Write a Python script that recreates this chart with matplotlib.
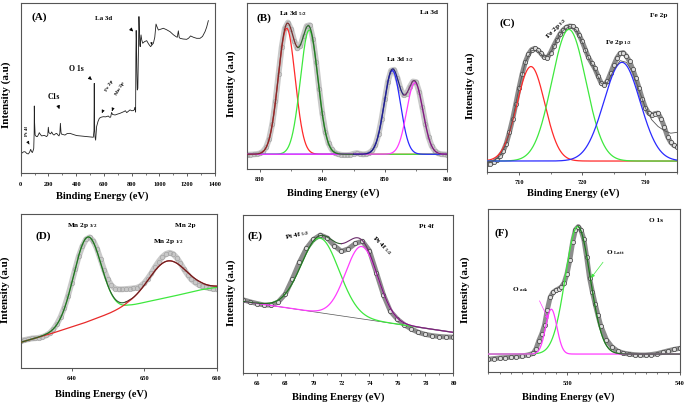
import numpy as np
import matplotlib
matplotlib.use("Agg")
import matplotlib.pyplot as plt
from matplotlib.ticker import MultipleLocator
from matplotlib.patches import FancyArrowPatch

plt.rcParams['font.family'] = ['Liberation Serif', 'DejaVu Serif']
plt.rcParams['font.weight'] = 'bold'
plt.rcParams['mathtext.fontset'] = 'custom'
plt.rcParams['mathtext.rm'] = 'Liberation Serif:bold'
plt.rcParams['mathtext.it'] = 'Liberation Serif:bold'
plt.rcParams['mathtext.bf'] = 'Liberation Serif:bold'

# ---------------- (A) survey ----------------
survey_energy = [0, 7, 20, 31, 45, 55, 64, 72, 78, 84, 90, 94, 97, 98, 100, 104, 113, 120, 127, 134,
                 142, 151, 170, 187, 195, 199, 203, 209, 216, 223, 232, 240, 250, 259, 268, 276, 282,
                 286, 290, 293, 305, 319, 335, 355, 380, 403, 440, 475, 500, 523, 528, 530, 532, 535,
                 540, 547, 557, 567, 580, 595, 612, 631, 640, 648, 655, 662, 680, 697, 716, 730, 744,
                 754, 764, 776, 788, 800, 812, 820, 824, 828, 830, 832, 834, 837, 840, 844, 848, 852,
                 855, 858, 861, 864, 867, 872, 879, 893, 908, 922, 936, 946, 956, 966, 975, 983, 992,
                 1010, 1028, 1050, 1076, 1100, 1119, 1128, 1136, 1142, 1148, 1170, 1196, 1210, 1224,
                 1245, 1268, 1292, 1310, 1328, 1340, 1352]
survey_intensity = [12.0, 11.8, 12.6, 12.7, 11.6, 11.4, 12.4, 14.1, 12.8, 12.2, 13.5, 14.7, 24.0, 39.6,
                    30.0, 22.5, 21.6, 21.6, 22.6, 23.9, 22.8, 22.0, 22.3, 21.6, 22.5, 27.1, 24.0, 23.5,
                    23.2, 24.3, 23.0, 22.5, 23.2, 23.5, 22.6, 22.0, 23.5, 29.4, 24.5, 23.1, 22.8, 22.5,
                    23.4, 23.5, 22.8, 22.2, 21.9, 21.6, 21.4, 21.2, 25.0, 52.9, 30.0, 21.6, 19.5, 27.5,
                    30.5, 32.4, 33.0, 33.3, 33.2, 33.7, 33.0, 33.0, 35.8, 34.6, 34.3, 34.8, 35.3, 35.8,
                    36.3, 36.8, 35.7, 36.5, 37.3, 36.8, 36.9, 37.5, 38.8, 36.0, 70.0, 84.0, 78.0, 60.0,
                    49.0, 50.0, 70.0, 92.2, 85.0, 76.0, 74.5, 79.0, 81.4, 78.5, 76.5, 77.5, 78.0, 76.0,
                    74.5, 75.5, 76.5, 80.0, 87.8, 86.0, 84.3, 84.8, 85.3, 84.5, 83.3, 81.5, 80.4, 80.0,
                    83.8, 80.0, 79.4, 79.0, 78.8, 79.5, 80.8, 80.0, 79.4, 79.4, 80.5, 83.3, 86.0, 89.8]

# ---------------- (B) La 3d ----------------
la_energy = np.arange(828, 860.01, 0.5)
la_intensity = [8.6, 8.7, 8.8, 9.0, 9.4, 10.5, 13.0, 18.2, 27.3, 40.8, 57.4, 73.5, 84.8, 88.4, 84.5,
                77.5, 72.8, 74.5, 80.5, 86.3, 86.8, 78.5, 64.8, 48.5, 33.6, 22.4, 15.5, 11.8, 9.8, 9.0,
                8.6, 8.4, 8.4, 8.6, 9.2, 9.6, 9.2, 8.8, 9.0, 9.7, 11.2, 14.6, 21.0, 30.4, 42.0, 52.8,
                59.4, 59.9, 55.2, 48.6, 44.6, 45.4, 49.6, 52.8, 52.5, 46.6, 37.2, 27.2, 19.2, 13.9,
                11.0, 9.5, 9.0, 8.8, 8.7]
la_base = 8.9
la_centers = [834.3, 837.9, 851.2, 854.8]
la_heights = [76.0, 75.0, 50.5, 43.2]
la_widths = [1.36, 1.40, 1.30, 1.30]
la_colors = ['#ff2a2a', '#3ee83e', '#2a2aff', '#ff3cff']
la_env_breaks = [828, 836.1, 845, 853, 860]
la_env_colors = ['#7a2e2e', '#2c6a2c', '#23237a', '#6e2a6e']

# ---------------- (C) Fe 2p ----------------
fe_energy = np.arange(705, 735.01, 0.5)
fe_intensity = [4.6, 5.0, 5.8, 7.3, 9.4, 12.3, 16.8, 23.5, 31.2, 40.2, 49.5, 58.0, 65.0, 69.8, 72.5,
                73.3, 72.3, 70.3, 68.0, 67.6, 70.8, 74.8, 78.4, 81.8, 84.2, 85.8, 86.5, 86.3, 84.6,
                81.5, 77.4, 72.6, 67.9, 64.6, 61.4, 57.0, 52.8, 51.5, 54.0, 58.6, 63.4, 67.6, 70.3,
                70.8, 68.7, 65.6, 61.0, 55.7, 49.8, 43.5, 38.2, 35.0, 33.8, 34.6, 34.9, 31.5, 26.6,
                21.0, 17.6, 15.8, 14.9]
fe_fit_energy = np.arange(705, 735.01, 1.0)
fe_fit = [6.0, 6.6, 9.6, 16.8, 31.0, 49.5, 65.0, 72.0, 71.8, 68.0, 70.6, 78.2, 84.0, 86.2, 84.4,
          77.0, 67.6, 60.8, 52.5, 53.0, 60.5, 66.0, 65.0, 59.0, 48.5, 38.0, 31.0, 27.0, 24.5, 23.0, 23.5]
fe_base = 6.5
fe_centers = [711.9, 717.9, 726.3]
fe_heights = [56.0, 78.0, 58.5]
fe_widths = [2.2, 2.7, 2.85]
fe_colors = ['#ff2a2a', '#3ee83e', '#2a2aff']

# ---------------- (D) Mn 2p ----------------
mn_energy = np.arange(633, 660.01, 0.5)
mn_intensity = [17.5, 18.0, 18.5, 19.0, 19.2, 19.5, 20.0, 21.0, 22.5, 25.0, 28.5, 33.0, 39.0, 46.5,
                55.0, 64.0, 72.5, 79.0, 83.5, 84.8, 82.5, 77.5, 70.5, 63.5, 57.5, 53.5, 51.5, 51.0,
                51.0, 51.2, 51.4, 51.6, 52.0, 53.0, 55.0, 58.0, 61.5, 65.5, 69.0, 72.0, 74.0, 74.8,
                74.0, 71.5, 68.0, 64.0, 60.5, 57.5, 55.5, 54.0, 53.0, 52.3, 51.8, 51.3, 51.0]
mn_bg_energy = [633, 637, 641.6, 645.3, 647.8, 651, 654, 657.7, 660]
mn_bg_level = [16.5, 21.9, 28.9, 35.4, 40.1, 43.5, 46.5, 50.6, 52.3]
mn_centers = [642.2, 653.2]
mn_heights = [55.0, 23.7]
mn_widths = [1.9, 2.6]
mn_colors = ['#3ee83e', '#e82a2a']

# ---------------- (E) Pt 4f ----------------
pt_energy = np.arange(65, 80.01, 0.5)
pt_intensity = [46.3, 45.0, 43.9, 43.0, 43.0, 45.0, 50.0, 59.5, 70.0, 78.8, 84.5, 87.3, 85.4, 80.5,
                77.0, 78.6, 82.0, 83.4, 77.5, 63.5, 49.5, 39.0, 34.0, 30.5, 27.8, 25.7, 24.4, 23.6,
                23.1, 22.8, 22.7]
pt_bg_energy = [65, 80]
pt_bg_level = [45.3, 25.7]
pt_centers = [70.48, 73.45]
pt_heights = [47.2, 45.8]
pt_widths = [1.35, 1.15]
pt_colors = ['#3ee83e', '#ff3cff']

# ---------------- (F) O 1s ----------------
o_energy = [523, 523.5, 524, 524.5, 525, 525.5, 526, 526.5, 527, 527.25, 527.5, 527.75, 528, 528.25,
            528.5, 528.75, 529, 529.25, 529.5, 529.75, 530, 530.25, 530.5, 530.75, 531, 531.25,
            531.5, 531.75, 532, 532.25, 532.5, 532.75, 533, 533.5, 534, 534.5, 535, 535.5, 536,
            536.5, 537, 537.5, 538, 538.5, 539, 539.5, 540]
o_intensity = [8.0, 8.4, 8.8, 9.0, 9.3, 9.6, 10.0, 10.6, 11.6, 14.5, 19.5, 23.5, 29.0, 38.5, 46.0,
               49.0, 50.3, 51.2, 52.3, 55.0, 60.5, 69.0, 80.0, 87.5, 89.4, 87.0, 81.5, 70.5, 58.0,
               49.5, 42.0, 35.0, 28.5, 20.0, 15.5, 13.0, 11.8, 11.2, 10.8, 10.6, 10.6, 10.9, 11.4,
               12.3, 13.2, 14.0, 14.7]
o_base = 11.2
o_centers = [528.6, 530.95]
o_heights = [27.5, 78.2]
o_widths = [0.5, 1.1]
o_colors = ['#ff3cff', '#3ee83e']

# ---------------- helpers ----------------
W, H = 685, 403
fig = plt.figure(figsize=(W / 100, H / 100), dpi=100)


def add_ax(l, t, r, b):
    return fig.add_axes([l / W, 1 - b / H, (r - l) / W, (b - t) / H])


def style(ax, xlim, major, minor=None):
    ax.set_xlim(*xlim)
    ax.set_ylim(0, 100)
    ax.set_yticks([])
    ax.xaxis.set_major_locator(MultipleLocator(major))
    if minor:
        ax.xaxis.set_minor_locator(MultipleLocator(minor))
    ax.tick_params(axis='x', which='major', length=2.5, width=0.6, labelsize=4.6, pad=3.5,
                   direction='out', color='#444')
    ax.tick_params(axis='x', which='minor', length=1.6, width=0.5, direction='out', color='#444')
    for lab in ax.get_xticklabels():
        lab.set_fontweight('bold')
    for s in ax.spines.values():
        s.set_linewidth(0.8)
        s.set_color('#555555')


def gauss(x, c, h, w):
    return h * np.exp(-0.5 * ((x - c) / w) ** 2)


def T(x, y, s, size, rot=0, color='k', ha='center', va='center'):
    fig.text(x / W, 1 - y / H, s, fontsize=size, rotation=rot, ha=ha, va=va, color=color,
             fontweight='bold')


def ARR(x1, y1, x2, y2, color='k', ms=5, lw=0.5):
    fig.add_artist(FancyArrowPatch((x1 / W, 1 - y1 / H), (x2 / W, 1 - y2 / H),
                                   transform=fig.transFigure, arrowstyle='-|>',
                                   mutation_scale=ms, lw=lw, color=color))


def data_light(ax, x, y):
    ax.plot(x, y, color='#c9c9c9', lw=4.2, solid_capstyle='round', zorder=1)
    ax.plot(x, y, 'o', ms=3.2, mfc='none', mec='#a6a6a6', mew=0.5, zorder=1)


def data_dark(ax, x, y):
    ax.plot(x, y, color='#8c8c8c', lw=3.6, solid_capstyle='round', zorder=1)
    ax.plot(x, y, 'o', ms=3.0, mfc='#dddddd', mec='#3c3c3c', mew=0.5, zorder=1)


def ylab(x, y):
    T(x, y, 'Intensity (a.u)', 8.0, rot=90)


def xlab(x, y):
    T(x, y, 'Binding Energy (eV)', 7.6)


# ---------------- (A) ----------------
axA = add_ax(20.7, 3.3, 215, 173.3)
axA.plot(survey_energy, survey_intensity, color='#222222', lw=0.6)
style(axA, (0, 1400), 200, 100)
ylab(6.5, 95)
xlab(102.7, 196)
T(39, 17, '(A)', 8)
T(104, 19, 'La 3d', 5)
ARR(129, 27.3, 135, 33.5)
T(76, 69.3, 'O 1s', 5.5)
ARR(87.3, 76, 94, 81.7)
T(54, 97.3, 'C1s', 5.5)
ARR(57.3, 103.3, 60.3, 111.7)
T(26.7, 131, 'Pt 4f', 3.4, rot=90)
ARR(27.7, 141.7, 30.7, 146.7, ms=4)
T(109.5, 86, 'Fe 2p', 3.8, rot=60)
ARR(103.5, 109.5, 100.7, 115.5, ms=4)
T(120, 89, 'Mn 2p', 3.8, rot=60)
ARR(113.3, 107.5, 111, 113.5, ms=4)
ARR(151.5, 39.5, 151.5, 45, ms=3, lw=0.4)

# ---------------- (B) ----------------
axB = add_ax(247.3, 3.3, 447.3, 169)
style(axB, (828, 860), 10, 5)
data_light(axB, la_energy, la_intensity)
gB = np.linspace(828, 860, 900)
envB = np.full_like(gB, la_base)
for c, h, w, col in zip(la_centers, la_heights, la_widths, la_colors):
    comp = gauss(gB, c, h, w)
    envB += comp
    axB.plot(gB, la_base + comp, color=col, lw=0.9, zorder=3)
for i, col in enumerate(la_env_colors):
    m = (gB >= la_env_breaks[i]) & (gB <= la_env_breaks[i + 1])
    axB.plot(gB[m], envB[m], color=col, lw=0.9, zorder=4)
ylab(231.5, 84)
xlab(333.3, 192.7)
T(264.3, 18.3, '(B)', 8)
T(429, 12.7, 'La 3d', 5.2)
T(293.3, 13.3, r'La 3d $_{5/2}$', 5.2)
T(400, 60, r'La 3d $_{3/2}$', 5.2)

# ---------------- (C) ----------------
axC = add_ax(487.3, 3.3, 677, 172)
style(axC, (705, 735), 10, 5)
data_dark(axC, fe_energy, fe_intensity)
gC = np.linspace(705, 735, 900)
for c, h, w, col in zip(fe_centers, fe_heights, fe_widths, fe_colors):
    axC.plot(gC, fe_base + gauss(gC, c, h, w), color=col, lw=0.9, zorder=3)
axC.plot(fe_fit_energy, fe_fit, color='#555555', lw=0.6, zorder=4)
ylab(470, 86)
xlab(573, 192.7)
T(507.7, 22.7, '(C)', 8)
T(658.3, 16, 'Fe 2p', 5.2)
T(556, 28, r'Fe 2p $_{3/2}$', 5.2, rot=45)
T(618.3, 42.7, r'Fe 2p $_{1/2}$', 5.2)

# ---------------- (D) ----------------
axD = add_ax(20.7, 214, 216.7, 367.7)
style(axD, (633, 660), 10)
data_light(axD, mn_energy, mn_intensity)
gD = np.linspace(633, 660, 900)
bgD = np.interp(gD, mn_bg_energy, mn_bg_level)
compsD = [gauss(gD, c, h, w) for c, h, w in zip(mn_centers, mn_heights, mn_widths)]
axD.plot(gD, bgD + compsD[0], color=mn_colors[0], lw=0.9, zorder=3)
axD.plot(gD, bgD + compsD[1], color=mn_colors[1], lw=0.9, zorder=3)
envD = bgD + compsD[0] + compsD[1]
m = gD <= 647.5
axD.plot(gD[m], envD[m], color='#2c5e2c', lw=0.8, zorder=4)
axD.plot(gD[~m], envD[~m], color='#5e2323', lw=0.8, zorder=4)
ylab(5.5, 290)
xlab(101.7, 394.3)
T(43.3, 236, '(D)', 8)
T(82, 226, r'Mn 2p $_{3/2}$', 5.2)
T(185, 225, 'Mn 2p', 5.2)
T(168.3, 241.7, r'Mn 2p $_{1/2}$', 5.2)

# ---------------- (E) ----------------
axE = add_ax(243.3, 215, 453.5, 373)
style(axE, (65, 80), 2, 1)
data_dark(axE, pt_energy, pt_intensity)
gE = np.linspace(65, 80, 900)
bgE = np.interp(gE, pt_bg_energy, pt_bg_level)
compsE = [gauss(gE, c, h, w) for c, h, w in zip(pt_centers, pt_heights, pt_widths)]
axE.plot(gE, bgE, color='#555555', lw=0.5, zorder=2)
axE.plot(gE, bgE + compsE[0], color=pt_colors[0], lw=0.9, zorder=3)
axE.plot(gE, bgE + compsE[1], color=pt_colors[1], lw=0.9, zorder=3)
envE = bgE + compsE[0] + compsE[1]
m = gE <= 72
axE.plot(gE[m], envE[m], color='#2c5e2c', lw=0.8, zorder=4)
axE.plot(gE[~m], envE[~m], color='#6a2a6a', lw=0.8, zorder=4)
ylab(231, 293)
xlab(338.3, 396.7)
T(255, 236, '(E)', 8)
T(426.7, 226.7, 'Pt 4f', 5.2)
T(297, 235, r'Pt 4f $_{5/2}$', 5.2, rot=12)
T(382, 246, r'Pt 4f $_{5/2}$', 5.2, rot=-45)

# ---------------- (F) ----------------
axF = add_ax(488.3, 209.3, 679.5, 372.3)
style(axF, (523, 540), 10, 1)
data_dark(axF, o_energy, o_intensity)
gF = np.linspace(523, 540, 900)
compsF = [gauss(gF, c, h, w) for c, h, w in zip(o_centers, o_heights, o_widths)]
axF.plot(gF, o_base + compsF[1], color=o_colors[1], lw=0.9, zorder=3)
axF.plot(gF, o_base + compsF[0], color=o_colors[0], lw=0.9, zorder=3)
envF = o_base + compsF[0] + compsF[1]
m = gF >= 531
axF.plot(gF[m], envF[m], color='#2c5e2c', lw=0.8, zorder=4)
ylab(465, 290)
xlab(568.3, 396.7)
T(501.7, 233.3, '(F)', 8)
T(656, 220, 'O 1s', 5.2)
T(615, 253, r'O $_{\mathrm{Latt}}$', 5.2)
ARR(604.7, 260, 589.5, 280, color='#3ee83e')
T(520, 290, r'O $_{\mathrm{ads}}$', 5.2)
ARR(538.3, 298.3, 549.5, 321.7, color='#ff3cff')

fig.savefig('out.png', dpi=100)
